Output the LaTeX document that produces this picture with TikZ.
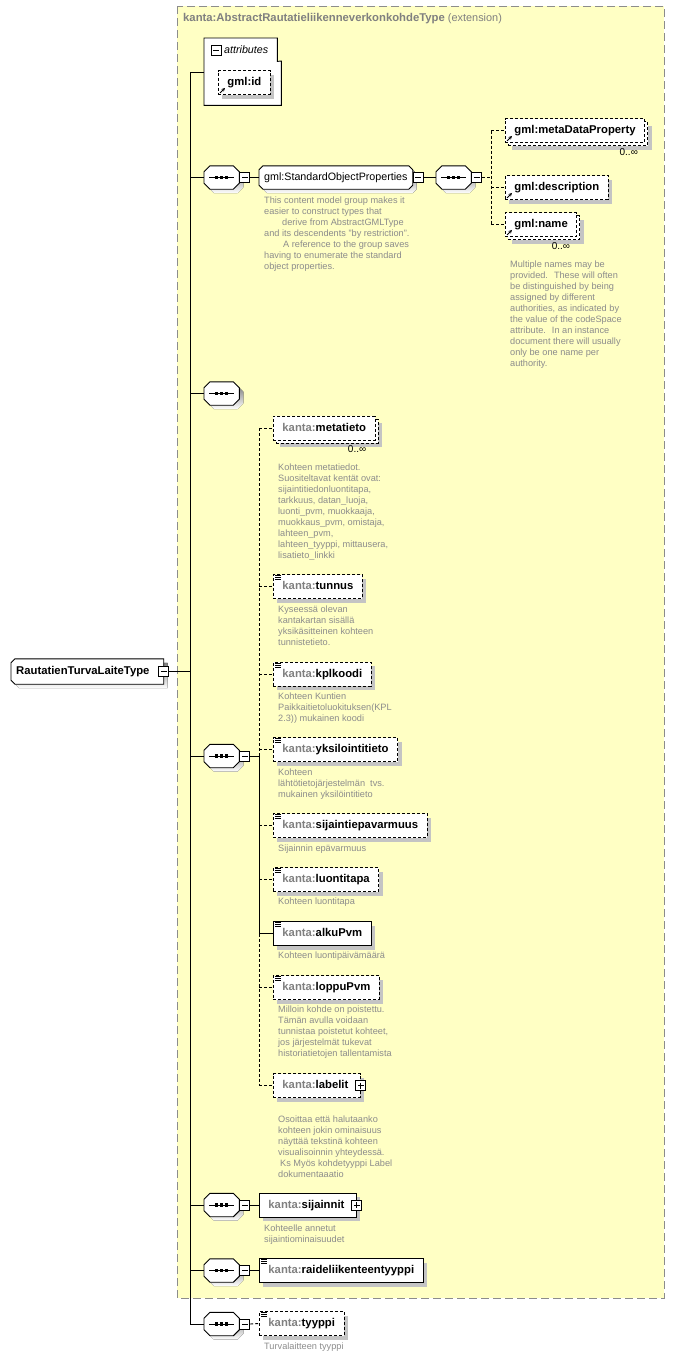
\documentclass[tikz,border=0pt]{standalone}
\usepackage{fontspec}
\setmainfont{Liberation Sans}
\usepackage{xcolor}
\usetikzlibrary{shadows,arrows.meta}
\definecolor{ext}{HTML}{FFFFC4}
\definecolor{extline}{HTML}{8C8C8C}
\definecolor{note}{HTML}{8C8C8C}
\definecolor{pre}{HTML}{808080}
\definecolor{shade}{HTML}{C4C4C4}
\newcommand\fsz[1]{\fontsize{#1}{11}\selectfont}
\newcommand\kanta{\textcolor{pre}{kanta:}}
% octagon round a node: node, cut, offset
\newcommand\octpath[3]{([shift={(#3+#2,#3)}]#1.north west) -- ([shift={(#3-#2,#3)}]#1.north east)
  -- ([shift={(#3,#3+#2)}]#1.north east) -- ([shift={(#3,#3-#2)}]#1.south east)
  -- ([shift={(#3-#2,#3)}]#1.south east) -- ([shift={(#3+#2,#3)}]#1.south west)
  -- ([shift={(#3,#3-#2)}]#1.south west) -- ([shift={(#3,#3+#2)}]#1.north west) -- cycle}
\tikzset{
  wire/.style={draw=black, line width=0.9pt},
  optwire/.style={wire, dash pattern=on 3pt off 2pt},
  extborder/.style={draw=extline, line width=1pt, dash pattern=on 8pt off 4pt},
  boxshadow/.style={drop shadow={shadow xshift=4pt, shadow yshift=-4pt, fill=shade, opacity=1}},
  elembase/.style={draw, fill=white, line width=0.9pt, inner xsep=9pt, inner ysep=0pt,
    minimum height=24pt, text height=8.5pt, text depth=2.5pt, anchor=west, font=\fsz{11.3}\bfseries},
  elem/.style={elembase, boxshadow},
  opt/.style={elembase, boxshadow, dash pattern=on 3pt off 2pt},
  multi/.style={elembase, dash pattern=on 3pt off 2pt,
    drop shadow={shadow xshift=7pt, shadow yshift=-7pt, fill=shade, opacity=1},
    general shadow={shadow xshift=3pt, shadow yshift=-3pt, draw=black, fill=white, dash pattern=on 3pt off 2pt}},
  seq/.style={minimum width=35pt, minimum height=23pt, inner sep=0pt, anchor=west},
  group/.style={inner xsep=5pt, inner ysep=0pt, minimum height=23pt,
    text height=8pt, text depth=2.5pt, anchor=west, font=\fsz{10.7}},
  roottype/.style={inner xsep=5pt, inner ysep=0pt, minimum height=25pt,
    text height=8.5pt, text depth=2.5pt, anchor=west, font=\fsz{11.3}\bfseries},
  minus/.style={draw, fill=white, line width=0.8pt, minimum size=10pt, inner sep=0pt, anchor=west,
    path picture={\draw[line width=0.8pt] ([xshift=2pt]path picture bounding box.west) -- ([xshift=-2pt]path picture bounding box.east);}},
  plus/.style={draw, fill=white, line width=0.8pt, minimum size=10pt, inner sep=0pt, anchor=center,
    path picture={\draw[line width=0.8pt] ([xshift=2pt]path picture bounding box.west) -- ([xshift=-2pt]path picture bounding box.east)
      ([yshift=-2pt]path picture bounding box.north) -- ([yshift=2pt]path picture bounding box.south);}},
  note/.style={anchor=north west, align=left, inner sep=0pt, text=note, font=\fsz{9.2}},
  mult/.style={anchor=north east, inner sep=0pt, font=\fsz{10}},
}

\begin{document}
\begin{tikzpicture}[x=1pt,y=-1pt]
  \useasboundingbox (0,0) rectangle (675,1358);
  \fill[ext] (177,6) rectangle (664,1298);
  \draw[extborder] (177,6) rectangle (664,1298);
  \node[anchor=west, inner sep=0pt, text=pre, font=\fsz{11.3}] (exttitle) at (183,19)
    {\textbf{kanta:AbstractRautatieliikenneverkonkohdeType} {\fsz{10.9}(extension)}};

  % attributes
  \node[minimum width=73pt, minimum height=23pt, inner sep=0pt, anchor=north west] (attrtab) at (204,38) {};
  \node[minimum width=77pt, minimum height=44pt, inner sep=0pt, anchor=north west] (attrbody) at (204,61) {};
  \draw[wire, fill=white] (attrtab.north west) -- (attrtab.north east) -- (attrtab.south east)
    -- (attrbody.north east) -- (attrbody.south east) -- (attrbody.south west) -- cycle;
  \node[minus] (mAttr) at (211,50.5) {};
  \node[anchor=west, inner sep=0pt, font=\fsz{10.7}\itshape] (attrlabel) at (224,50) {attributes};
  \node[opt] (gmlid) at (218,82.5) {gml:id};

  % root type
  \node[roottype] (root) at (11,671.5) {RautatienTurvaLaiteType\hspace*{9pt}};
  \fill[shade] ([shift={(8,4)}]root.north west) -- ([shift={(4,4)}]root.north east) -- ([shift={(4,4)}]root.south east)
    -- ([shift={(8,4)}]root.south west) -- ([shift={(4,0)}]root.south west) -- ([shift={(4,8)}]root.north west) -- cycle;
  \draw[wire, fill=white] ([xshift=4pt]root.north west) -- (root.north east) -- (root.south east)
    -- ([xshift=4pt]root.south west) -- ([yshift=4pt]root.south west) -- ([yshift=-4pt]root.north west) -- cycle;
  \node[roottype] at (root.west) {RautatienTurvaLaiteType\hspace*{9pt}};
  \node[minus, anchor=center] (mR) at (root.east) {};

  % sequences
  \node[seq] (seqA) at (204,177.5) {};
  \node[seq] (seqB) at (204,393.5) {};
  \node[seq] (seqC) at (204,756) {};
  \node[seq] (seqD) at (204,1205) {};
  \node[seq] (seqE) at (204,1270.5) {};
  \node[seq] (seqF) at (204,1324) {};
  \node[seq] (seqG) at (436,177.5) {};
  \foreach \s in {seqA,seqB,seqC,seqD,seqE,seqF,seqG} {
    \fill[shade] \octpath{\s}{6}{4};
    \draw[wire, fill=white] \octpath{\s}{6}{0};
    \draw[line width=0.9pt] ([xshift=5pt]\s.west) -- ([xshift=-5pt]\s.east);
    \foreach \d in {-5,0,5}
      \fill ([xshift=\d pt]\s.center) +(-1.7,-1.7) rectangle +(1.7,1.7);
  }
  \node[minus] (mA) at (seqA.east) {};
  \node[minus] (mC) at (seqC.east) {};
  \node[minus] (mD) at (seqD.east) {};
  \node[minus] (mE) at (seqE.east) {};
  \node[minus] (mF) at (seqF.east) {};
  \node[minus] (mG) at (seqG.east) {};

  % gml:StandardObjectProperties
  \node[group] (sop) at (259,177.5) {gml:StandardObjectProperties};
  \fill[shade] \octpath{sop}{4}{4};
  \draw[wire, fill=white] \octpath{sop}{4}{0};
  \node[group] at (sop.west) {gml:StandardObjectProperties};
  \node[minus] (mS) at (sop.east) {};
  \node[multi] (meta) at (505,130.5) {gml:metaDataProperty};
  \node[opt] (desc) at (505,187.5) {gml:description};
  \node[multi] (gname) at (505,224.5) {gml:name};
  \node[mult] (metaM) at ([shift={(-7,5)}]meta.south east) {0..∞};
  \node[mult] (gnameM) at ([shift={(-7,5)}]gname.south east) {0..∞};
  \node[note] (sopN) at (264,197) {This content model group makes it\\easier to construct types that\\\hspace*{18pt}derive from AbstractGMLType\\and its descendents "by restriction".\\\hspace*{19pt}A reference to the group saves\\having to enumerate the standard\\object properties.};
  \node[note] (gnameN) at (510,261) {Multiple names may be\\provided.~ These will often\\be distinguished by being\\assigned by different\\authorities, as indicated by\\the value of the codeSpace\\attribute.~ In an instance\\document there will usually\\only be one name per\\authority.};

  % kanta elements
  \node[multi] (metatieto) at (273,428) {\kanta metatieto};
  \node[mult] (metatietoM) at ([shift={(-9,5)}]metatieto.south east) {0..∞};
  \node[note] (metatietoN) at (278,464) {Kohteen metatiedot.\\Suositeltavat kentät ovat:\\sijaintitiedonluontitapa,\\tarkkuus, datan\_luoja,\\luonti\_pvm, muokkaaja,\\muokkaus\_pvm, omistaja,\\lahteen\_pvm,\\lahteen\_tyyppi, mittausera,\\lisatieto\_linkki};
  \node[opt] (tunnus) at (273,586.5) {\kanta tunnus};
  \node[note] (tunnusN) at (278,606) {Kyseessä olevan\\kantakartan sisällä\\yksikäsitteinen kohteen\\tunnistetieto.};
  \node[opt] (kplkoodi) at (273,674) {\kanta kplkoodi};
  \node[note] (kplkoodiN) at (278,693) {Kohteen Kuntien\\Paikkaitietoluokituksen(KPL\\2.3)) mukainen koodi};
  \node[opt] (yksilo) at (273,749.5) {\kanta yksilointitieto};
  \node[note] (yksiloN) at (278,769) {Kohteen\\lähtötietojärjestelmän~ tvs.\\mukainen yksilöintitieto};
  \node[opt] (epavarm) at (273,825.5) {\kanta sijaintiepavarmuus};
  \node[note] (epavarmN) at (278,845) {Sijainnin epävarmuus};
  \node[opt] (luonti) at (273,879.5) {\kanta luontitapa};
  \node[note] (luontiN) at (278,898) {Kohteen luontitapa};
  \node[elem] (alku) at (273,933.5) {\kanta alkuPvm};
  \node[note] (alkuN) at (278,952) {Kohteen luontipäivämäärä};
  \node[opt] (loppu) at (273,987.5) {\kanta loppuPvm};
  \node[note] (loppuN) at (278,1006) {Milloin kohde on poistettu.\\Tämän avulla voidaan\\tunnistaa poistetut kohteet,\\jos järjestelmät tukevat\\historiatietojen tallentamista};
  \node[opt] (labelit) at (273,1085.5) {\kanta labelit\hspace*{3pt}};
  \node[plus] (pL) at (labelit.east) {};
  \node[note] (labelitN) at (278,1116) {Osoittaa että halutaanko\\kohteen jokin ominaisuus\\näyttää tekstinä kohteen\\visualisoinnin yhteydessä.\\\hspace*{2pt}Ks Myös kohdetyyppi Label\\dokumentaaatio};
  \node[elem] (sijainnit) at (259,1205) {\kanta sijainnit\hspace*{3pt}};
  \node[plus] (pS) at (sijainnit.east) {};
  \node[note] (sijainnitN) at (264,1225) {Kohteelle annetut\\sijaintiominaisuudet};
  \node[elem] (raide) at (259,1270.5) {\kanta raideliikenteentyyppi};
  \node[opt] (tyyppi) at (259,1323.5) {\kanta tyyppi};
  \node[note] (tyyppiN) at (264,1343) {Turvalaitteen tyyppi};

  % icons
  \foreach \n in {tunnus,kplkoodi,yksilo,epavarm,luonti,alku,loppu,raide,tyyppi}
    \foreach \k in {1.5,3.5,5.5}
      \draw[line width=0.8pt] ([shift={(2,\k)}]\n.north west) -- +(6,0);
  \foreach \n in {gmlid,meta,desc,gname}
    \draw[line width=0.8pt, -{Stealth[length=3.5pt,width=3.5pt]}] ([shift={(2,-2)}]\n.south west) -- +(5,-5);

  % connectors
  \coordinate (spT) at (190,72);
  \coordinate (spB) at (spT |- seqF.west);
  \draw[wire] (spT) -- (spB);
  \draw[wire] (spT) -- (spT -| attrbody.west);
  \draw[wire] (mR.east) -- (mR.east -| spT);
  \foreach \s in {seqA,seqB,seqC,seqD,seqE,seqF}
    \draw[wire] (spT |- \s.west) -- (\s.west);
  \draw[wire] (mA.east) -- (sop.west);
  \draw[wire] (mS.east) -- (seqG.west);
  \coordinate (spG) at ([xshift=9pt]mG.east);
  \draw[optwire] (mG.east) -- (spG);
  \draw[optwire] (spG |- meta.west) -- (spG |- gname.west);
  \foreach \n in {meta,desc,gname}
    \draw[optwire] (spG |- \n.west) -- (\n.west);
  \coordinate (spC) at ([xshift=9pt]mC.east);
  \draw[wire] (mC.east) -- (spC);
  \draw[optwire] (spC |- metatieto.west) -- (spC);
  \draw[wire] (spC) -- (spC |- alku.west);
  \draw[optwire] (spC |- alku.west) -- (spC |- labelit.west);
  \foreach \n in {metatieto,tunnus,kplkoodi,yksilo,epavarm,luonti,loppu,labelit}
    \draw[optwire] (spC |- \n.west) -- (\n.west);
  \draw[wire] (spC |- alku.west) -- (alku.west);
  \draw[wire] (mD.east) -- (sijainnit.west);
  \draw[wire] (mE.east) -- (raide.west);
  \draw[optwire] (mF.east) -- (tyyppi.west);
\end{tikzpicture}
\end{document}
